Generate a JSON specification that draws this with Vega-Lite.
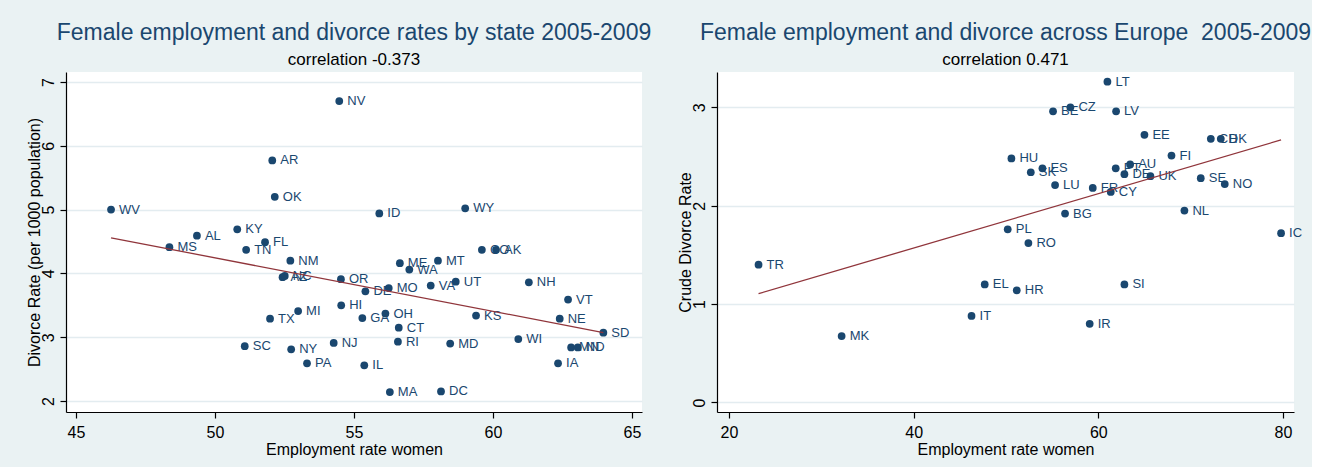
{
  "$schema": "https://vega.github.io/schema/vega-lite/v6.json",
  "background": "#eaf2f3",
  "padding": {"left": 25, "top": 22, "right": 0, "bottom": 10},
  "spacing": 25,
  "config": {
    "font": "Liberation Sans",
    "view": {"fill": "white", "stroke": null},
    "axis": {
      "labelFont": "Liberation Sans",
      "labelFontSize": 16,
      "labelColor": "black",
      "labelFlush": false,
      "labelOverlap": false,
      "titleFont": "Liberation Sans",
      "titleFontSize": 16,
      "titleFontWeight": "normal",
      "titleColor": "black",
      "domainColor": "black",
      "domainWidth": 1.2,
      "tickColor": "black",
      "tickWidth": 1.2,
      "tickSize": 6,
      "gridColor": "#e3ecf0",
      "gridWidth": 1.5
    },
    "axisX": {"grid": false, "labelPadding": 6, "titleY": 42, "titleBaseline": "alphabetic"},
    "axisY": {
      "grid": true,
      "labelAngle": 270,
      "labelAlign": "center",
      "labelBaseline": "alphabetic",
      "labelPadding": 7,
      "titleAngle": 270,
      "titleX": -27,
      "titleBaseline": "alphabetic",
      "titleAlign": "center"
    },
    "title": {
      "font": "Liberation Sans",
      "fontSize": 23,
      "fontWeight": "normal",
      "color": "#1a476f",
      "anchor": "middle",
      "frame": "group",
      "offset": 4,
      "subtitleFont": "Liberation Sans",
      "subtitleFontSize": 17,
      "subtitleColor": "black",
      "subtitlePadding": 7
    }
  },
  "hconcat": [
    {
      "width": 576,
      "height": 340,
      "title": {"text": "Female employment and divorce rates by state 2005-2009", "subtitle": "correlation -0.373"},
      "data": {
        "values": [
          {"st": "NV", "emp": 54.47, "div": 6.70},
          {"st": "AR", "emp": 52.06, "div": 5.77},
          {"st": "OK", "emp": 52.15, "div": 5.20},
          {"st": "WV", "emp": 46.26, "div": 5.00},
          {"st": "KY", "emp": 50.80, "div": 4.69},
          {"st": "AL", "emp": 49.35, "div": 4.59},
          {"st": "MS", "emp": 48.36, "div": 4.41},
          {"st": "TN", "emp": 51.12, "div": 4.37},
          {"st": "FL", "emp": 51.80, "div": 4.49},
          {"st": "NM", "emp": 52.71, "div": 4.20},
          {"st": "AZ", "emp": 52.43, "div": 3.94},
          {"st": "NC", "emp": 52.51, "div": 3.96},
          {"st": "ID", "emp": 55.91, "div": 4.94},
          {"st": "WY", "emp": 59.00, "div": 5.02},
          {"st": "CO", "emp": 59.60, "div": 4.37},
          {"st": "AK", "emp": 60.11, "div": 4.37},
          {"st": "ME", "emp": 56.65, "div": 4.16},
          {"st": "WA", "emp": 56.99, "div": 4.06},
          {"st": "MT", "emp": 58.02, "div": 4.20},
          {"st": "UT", "emp": 58.66, "div": 3.87},
          {"st": "VA", "emp": 57.76, "div": 3.81},
          {"st": "NH", "emp": 61.29, "div": 3.86},
          {"st": "OR", "emp": 54.53, "div": 3.91},
          {"st": "MO", "emp": 56.25, "div": 3.77},
          {"st": "DE", "emp": 55.41, "div": 3.72},
          {"st": "HI", "emp": 54.54, "div": 3.50},
          {"st": "MI", "emp": 52.99, "div": 3.41},
          {"st": "TX", "emp": 51.98, "div": 3.29},
          {"st": "OH", "emp": 56.13, "div": 3.37},
          {"st": "GA", "emp": 55.30, "div": 3.30},
          {"st": "CT", "emp": 56.61, "div": 3.15},
          {"st": "KS", "emp": 59.39, "div": 3.34},
          {"st": "VT", "emp": 62.70, "div": 3.59},
          {"st": "NE", "emp": 62.40, "div": 3.29},
          {"st": "SD", "emp": 63.97, "div": 3.07},
          {"st": "SC", "emp": 51.07, "div": 2.86},
          {"st": "NY", "emp": 52.74, "div": 2.81},
          {"st": "NJ", "emp": 54.27, "div": 2.91},
          {"st": "RI", "emp": 56.58, "div": 2.93},
          {"st": "MD", "emp": 58.46, "div": 2.90},
          {"st": "WI", "emp": 60.91, "div": 2.97},
          {"st": "MN", "emp": 62.81, "div": 2.84},
          {"st": "ND", "emp": 63.05, "div": 2.84},
          {"st": "PA", "emp": 53.31, "div": 2.59},
          {"st": "IL", "emp": 55.37, "div": 2.56},
          {"st": "IA", "emp": 62.34, "div": 2.59},
          {"st": "MA", "emp": 56.29, "div": 2.14},
          {"st": "DC", "emp": 58.13, "div": 2.15}
        ]
      },
      "encoding": {
        "x": {
          "field": "emp", "type": "quantitative",
          "scale": {"domain": [44.64, 65.36], "nice": false, "zero": false},
          "axis": {"values": [45, 50, 55, 60, 65], "title": "Employment rate women"}
        },
        "y": {
          "field": "div", "type": "quantitative",
          "scale": {"domain": [1.828, 7.156], "nice": false, "zero": false},
          "axis": {"values": [2, 3, 4, 5, 6, 7], "title": "Divorce Rate (per 1000 population)"}
        }
      },
      "layer": [
        {"mark": {"type": "circle", "color": "#1a476f", "size": 60, "opacity": 1}},
        {
          "mark": {"type": "text", "align": "left", "baseline": "middle", "dx": 8, "fontSize": 13, "color": "#1a476f"},
          "encoding": {"text": {"field": "st"}}
        },
        {
          "transform": [{"regression": "div", "on": "emp"}],
          "mark": {"type": "line", "color": "#90353b", "strokeWidth": 1.3}
        }
      ]
    },
    {
      "width": 577,
      "height": 340,
      "title": {"text": "Female employment and divorce across Europe \u00a02005-2009", "subtitle": "correlation 0.471"},
      "data": {
        "values": [
          {"st": "LT", "emp": 60.99, "div": 3.26},
          {"st": "BE", "emp": 55.10, "div": 2.96},
          {"st": "CZ", "emp": 56.98, "div": 3.00},
          {"st": "LV", "emp": 61.93, "div": 2.96},
          {"st": "EE", "emp": 65.00, "div": 2.72},
          {"st": "CH", "emp": 72.19, "div": 2.68},
          {"st": "DK", "emp": 73.27, "div": 2.68},
          {"st": "FI", "emp": 67.93, "div": 2.51},
          {"st": "HU", "emp": 50.59, "div": 2.48},
          {"st": "ES", "emp": 53.95, "div": 2.38},
          {"st": "SK", "emp": 52.69, "div": 2.34},
          {"st": "LU", "emp": 55.32, "div": 2.21},
          {"st": "FR", "emp": 59.40, "div": 2.18},
          {"st": "CY", "emp": 61.35, "div": 2.14},
          {"st": "PT", "emp": 61.89, "div": 2.38},
          {"st": "AU", "emp": 63.45, "div": 2.42},
          {"st": "DE", "emp": 62.83, "div": 2.32},
          {"st": "UK", "emp": 65.65, "div": 2.30},
          {"st": "SE", "emp": 71.10, "div": 2.28},
          {"st": "NO", "emp": 73.70, "div": 2.22},
          {"st": "NL", "emp": 69.33, "div": 1.95},
          {"st": "BG", "emp": 56.40, "div": 1.92},
          {"st": "PL", "emp": 50.19, "div": 1.76},
          {"st": "RO", "emp": 52.43, "div": 1.62},
          {"st": "IC", "emp": 79.80, "div": 1.72},
          {"st": "EL", "emp": 47.70, "div": 1.20},
          {"st": "HR", "emp": 51.17, "div": 1.14},
          {"st": "SI", "emp": 62.83, "div": 1.20},
          {"st": "TR", "emp": 23.20, "div": 1.40},
          {"st": "MK", "emp": 32.20, "div": 0.675},
          {"st": "IT", "emp": 46.27, "div": 0.88},
          {"st": "IR", "emp": 59.07, "div": 0.80}
        ]
      },
      "encoding": {
        "x": {
          "field": "emp", "type": "quantitative",
          "scale": {"domain": [18.7, 81.2], "nice": false, "zero": false},
          "axis": {"values": [20, 40, 60, 80], "title": "Employment rate women"}
        },
        "y": {
          "field": "div", "type": "quantitative",
          "scale": {"domain": [-0.097, 3.359], "nice": false, "zero": false},
          "axis": {"values": [0, 1, 2, 3], "title": "Crude Divorce Rate"}
        }
      },
      "layer": [
        {"mark": {"type": "circle", "color": "#1a476f", "size": 60, "opacity": 1}},
        {
          "mark": {"type": "text", "align": "left", "baseline": "middle", "dx": 8, "fontSize": 13, "color": "#1a476f"},
          "encoding": {"text": {"field": "st"}}
        },
        {
          "transform": [{"regression": "div", "on": "emp"}],
          "mark": {"type": "line", "color": "#90353b", "strokeWidth": 1.3}
        }
      ]
    }
  ]
}
